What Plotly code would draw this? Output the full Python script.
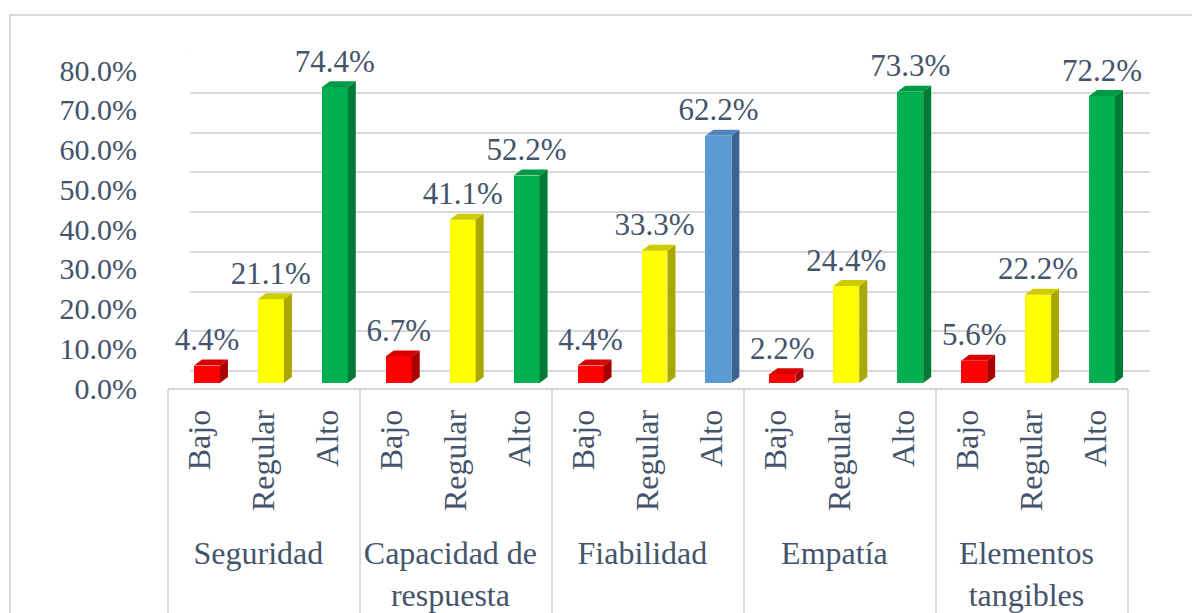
import plotly.graph_objects as go

# datos del gráfico
dimensiones = ["Seguridad", "Capacidad de<br>respuesta", "Fiabilidad", "Empatía", "Elementos<br>tangibles"]
niveles = ["Bajo", "Regular", "Alto"]
seguridad = [0.044, 0.211, 0.744]
capacidad = [0.067, 0.411, 0.522]
fiabilidad = [0.044, 0.333, 0.622]
empatia = [0.022, 0.244, 0.733]
elementos = [0.056, 0.222, 0.722]

W, H = 1200, 613
FONT = "Liberation Serif"
TXT = "#44546A"
GRID = "#D9D9D9"

valores = seguridad + capacidad + fiabilidad + empatia + elementos
grupos = [d for d in dimensiones for _ in niveles]
cats = niveles * len(dimensiones)
pos = list(range(len(valores)))

# colores: frente, lado, tapa
estilo = {
    "Bajo": ("#FF0000", "#A80000", "#D80000"),
    "Regular": ("#FFFF00", "#A8A800", "#CCCC00"),
    "Alto": ("#00B050", "#007A37", "#009A45"),
}
azul = ("#5B9BD5", "#3A6592", "#4F86BE")
colores = [azul if (g == "Fiabilidad" and c == "Alto") else estilo[c] for g, c in zip(grupos, cats)]

hw = 0.203   # media anchura de la cara frontal
dx = 0.125   # profundidad en x
dy = 0.015   # profundidad en y

# la página tiene 8 px de margen en body
OFF = 8


def px(p):
    return (p - OFF) / W


def py(p):
    return 1 - (p - OFF) / H


fig = go.Figure()

# pared del fondo: cuadrícula
fig.add_trace(go.Scatter(x=[0, 1], y=[0, 0], mode="lines", line=dict(width=0),
                         xaxis="x2", yaxis="y2", hoverinfo="skip", showlegend=False))
ticks = [i / 10 for i in range(9)]
off_y = 0.0425
off_x = 23 / 960
dxs, dys = [], []
for t in ticks:
    dxs += [-off_x, 0, None]
    dys += [t - off_y, t, None]
dxs += [1 - off_x, 1, None]
dys += [-off_y, 0, None]
fig.add_trace(go.Scatter(x=dxs, y=dys, mode="lines", line=dict(color=GRID, width=2),
                         xaxis="x2", yaxis="y2", hoverinfo="skip", showlegend=False,
                         cliponaxis=False))

# eje de categorías (invisible)
fig.add_trace(go.Scatter(x=[grupos, cats], y=valores, mode="markers",
                         marker=dict(opacity=0, size=1),
                         hoverinfo="skip", showlegend=False))

# caras frontales
fig.add_trace(go.Bar(x=pos, y=valores, width=2 * hw,
                     marker=dict(color=[c[0] for c in colores], line=dict(width=0)),
                     xaxis="x3", yaxis="y3", showlegend=False,
                     hovertext=[f"{g.replace('<br>', ' ')} - {c}" for g, c in zip(grupos, cats)]))

# caras laterales y tapas, agrupadas por color
for col in sorted(set(colores)):
    sx, sy, tx, ty = [], [], [], []
    for p, v, c in zip(pos, valores, colores):
        if c != col:
            continue
        sx += [p + hw, p + hw + dx, p + hw + dx, p + hw, p + hw, None]
        sy += [0, dy, v + dy, v, 0, None]
        tx += [p - hw, p - hw + dx, p + hw + dx, p + hw, p - hw, None]
        ty += [v, v + dy, v + dy, v, v, None]
    fig.add_trace(go.Scatter(x=sx, y=sy, fill="toself", fillcolor=col[1], mode="lines",
                             line=dict(width=0, color=col[1]), xaxis="x3", yaxis="y3",
                             hoverinfo="skip", showlegend=False))
    fig.add_trace(go.Scatter(x=tx, y=ty, fill="toself", fillcolor=col[2], mode="lines",
                             line=dict(width=0, color=col[2]), xaxis="x3", yaxis="y3",
                             hoverinfo="skip", showlegend=False))

# etiquetas de datos
fig.add_trace(go.Scatter(x=pos, y=[v + dy + 0.004 for v in valores], mode="text",
                         text=[f"{v * 100:.1f}%" for v in valores],
                         textposition="top center",
                         textfont=dict(family=FONT, size=31, color=TXT),
                         xaxis="x3", yaxis="y3", hoverinfo="skip", showlegend=False,
                         cliponaxis=False))

fig.update_layout(
    width=W, height=H,
    margin=dict(l=0, r=0, t=0, b=0),
    paper_bgcolor="white", plot_bgcolor="rgba(0,0,0,0)",
    font=dict(family=FONT, size=30, color=TXT),
    xaxis=dict(type="multicategory", domain=[px(168), px(1128)], anchor="y",
               range=[-0.5, 14.5], showline=True, linecolor=GRID, linewidth=2,
               showdividers=True, dividercolor=GRID, dividerwidth=2,
               tickangle=-90, ticks="", showgrid=False, automargin=False,
               ticklabelstandoff=7,
               tickfont=dict(family=FONT, size=32, color=TXT)),
    yaxis=dict(domain=[py(388), py(70)], anchor="x", range=[0, 0.8], dtick=0.1,
               tickformat=".1%", showgrid=False, zeroline=False, showline=False,
               ticks="outside", ticklen=24, tickcolor="rgba(0,0,0,0)", automargin=False,
               tickfont=dict(family=FONT, size=30, color=TXT)),
    xaxis2=dict(domain=[px(190), px(1150)], anchor="y2", range=[0, 1], visible=False),
    yaxis2=dict(domain=[py(371), py(53)], anchor="x2", range=[0, 0.8], dtick=0.1,
                showticklabels=False, showgrid=True, gridcolor=GRID, gridwidth=2,
                zeroline=True, zerolinecolor=GRID, zerolinewidth=2, ticks=""),
    xaxis3=dict(domain=[px(175), px(1134)], anchor="y3", range=[-0.5, 14.5], visible=False),
    yaxis3=dict(domain=[py(383), py(65)], anchor="x3", range=[0, 0.8], visible=False),
    shapes=[dict(type="rect", xref="paper", yref="paper", x0=px(10), y0=-0.2,
                 x1=1.2, y1=py(15), line=dict(color=GRID, width=2), layer="below")],
    bargap=0,
)

fig.write_html("out.html")
